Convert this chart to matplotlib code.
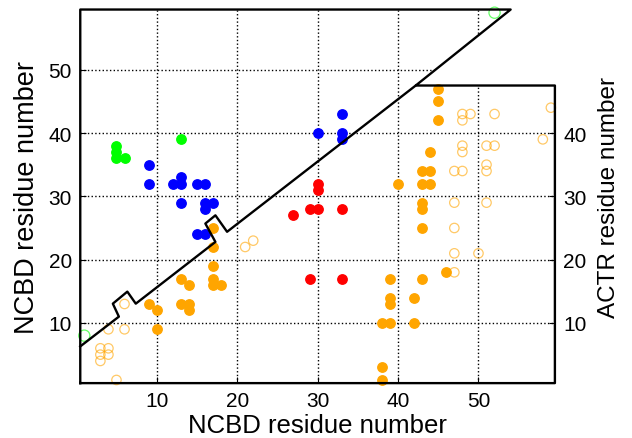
import matplotlib
matplotlib.use("Agg")
import matplotlib.pyplot as plt
from matplotlib.patches import Polygon

plt.rcParams["font.family"] = ["Liberation Sans", "DejaVu Sans"]

# contatos NCBD-NCBD (triangulo de cima)
green_x = [5, 5, 5, 6, 13]
green_y = [38, 37, 36, 36, 39]
green_open_x = [1, 52]
green_open_y = [8, 59]

blue_x = [9, 9, 12, 13, 13, 15, 16, 13, 16, 17, 16, 15, 16, 30, 33, 33, 33]
blue_y = [35, 32, 32, 32, 33, 32, 32, 29, 29, 29, 28, 24, 24, 40, 43, 40, 39]

red_x = [30, 30, 27, 29, 30, 33, 29, 33]
red_y = [32, 31, 27, 28, 28, 28, 17, 17]

# contatos NCBD-ACTR
orange_x = [17, 17, 17, 17, 17, 18, 13, 14, 13, 14, 14, 9, 10, 10,
            45, 45, 45, 44, 43, 44, 43, 44, 40, 43, 43, 43, 46,
            39, 43, 39, 39, 42, 38, 39, 42, 38, 38]
orange_y = [25, 22, 19, 17, 16, 16, 17, 16, 13, 13, 12, 13, 12, 9,
            47, 45, 42, 37, 34, 34, 32, 32, 32, 29, 28, 25, 18,
            17, 17, 14, 13, 14, 10, 10, 10, 3, 1]
orange_open_x = [6, 4, 6, 3, 4, 3, 4, 3, 5, 21, 22,
                 48, 49, 52, 48, 59, 58, 48, 48, 51, 52, 51, 51, 47, 48,
                 47, 51, 47, 47, 50, 47]
orange_open_y = [13, 9, 9, 6, 6, 5, 5, 4, 1, 22, 23,
                 43, 43, 43, 42, 44, 39, 38, 37, 38, 38, 35, 34, 34, 34,
                 29, 29, 25, 21, 21, 18]

x_ticks = [10, 20, 30, 40, 50]
left_ticks = [10, 20, 30, 40, 50]
right_ticks = [10, 20, 30, 40]

# contorno das duas regioes
frame_x = [0.5, 0.5, 54.0, 42.2, 59.5, 59.5, 0.5]
frame_y = [0.5, 59.5, 59.5, 47.5, 47.5, 0.5, 0.5]
diag_x = [0.5, 5.3, 4.55, 6.35, 7.4, 17.3, 16.05, 17.3, 18.75, 42.2]
diag_y = [6.3, 11.0, 13.05, 14.95, 13.05, 22.8, 25.7, 27.0, 24.4, 47.5]

fig = plt.figure(figsize=(6.32, 4.39), dpi=100)
ax = fig.add_axes([0.127, 0.125, 0.751, 0.851])
ax.set_xlim(0.5, 59.5)
ax.set_ylim(0.5, 59.5)
for s in ax.spines.values():
    s.set_visible(False)

region = Polygon(list(zip(frame_x[:-1], frame_y[:-1])), closed=True,
                 transform=ax.transData, facecolor="none", edgecolor="none")
ax.add_patch(region)

ax.set_xticks(x_ticks)
ax.set_yticks(left_ticks)
ax.grid(True, color="black", linestyle=":", linewidth=1.0)
for gl in ax.get_xgridlines() + ax.get_ygridlines():
    gl.set_clip_path(region)

ax.plot(frame_x, frame_y, color="black", lw=1.7, clip_on=False, zorder=5)
ax.plot(diag_x, diag_y, color="black", lw=1.7, clip_on=False, zorder=5)

ms = 46
ax.scatter(orange_open_x, orange_open_y, s=ms, facecolors="none",
           edgecolors="orange", linewidths=0.9, alpha=0.6, clip_on=False, zorder=3)
ax.scatter(green_open_x, green_open_y, s=65, facecolors="none",
           edgecolors="lime", linewidths=0.9, alpha=0.6, clip_on=False, zorder=3)
ax.scatter(orange_x, orange_y, s=ms, color="orange", clip_on=False, zorder=4)
ax.scatter(green_x, green_y, s=ms, color="lime", clip_on=False, zorder=4)
ax.scatter(blue_x, blue_y, s=ms, color="blue", clip_on=False, zorder=4)
ax.scatter(red_x, red_y, s=ms, color="red", clip_on=False, zorder=4)

ax.tick_params(direction="in", length=4, labelsize=15, pad=6)
ax.set_xlabel("NCBD residue number", fontsize=18.5, labelpad=2)
ax.set_ylabel("NCBD residue number", fontsize=19.5, labelpad=6)

ax2 = ax.twinx()
ax2.set_ylim(0.5, 59.5)
ax2.set_yticks(right_ticks)
for s in ax2.spines.values():
    s.set_visible(False)
ax2.tick_params(direction="in", length=4, labelsize=15, pad=6)
ax2.set_ylabel("ACTR residue number", fontsize=17.5, labelpad=8)

plt.savefig("out.png", dpi=100)
